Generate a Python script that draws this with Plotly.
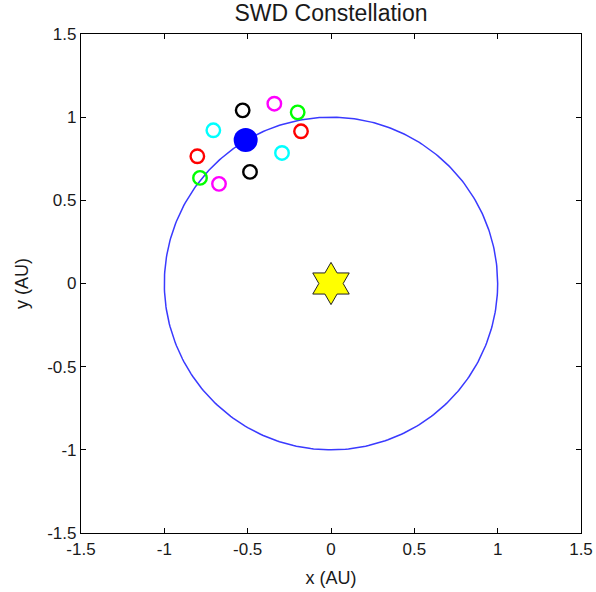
import numpy as np
import plotly.graph_objects as go

# ---- data ----
orbit_radius = 1.0
planet_x = [-0.512]
planet_y = [0.863]
sun_x = [0.0]
sun_y = [0.0]
sat_x = [-0.530, -0.340, -0.200, -0.180, -0.294, -0.486, -0.672, -0.786, -0.802, -0.706]
sat_y = [1.041, 1.081, 1.029, 0.915, 0.785, 0.671, 0.599, 0.635, 0.765, 0.921]
sat_colors = ["black", "magenta", "#00ff00", "red", "cyan", "black", "magenta", "#00ff00", "red", "cyan"]
tick_vals = [-1.5, -1.0, -0.5, 0.0, 0.5, 1.0, 1.5]
tick_text = ["-1.5", "-1", "-0.5", "0", "0.5", "1", "1.5"]

FONT = "Liberation Sans, Arial, sans-serif"

theta = np.linspace(0, 2 * np.pi, 361)
fig = go.Figure()
fig.add_trace(go.Scatter(x=orbit_radius * np.cos(theta), y=orbit_radius * np.sin(theta),
                         mode="lines", line=dict(color="#3a3aff", width=1.5),
                         hoverinfo="skip", showlegend=False))
fig.add_trace(go.Scatter(x=sat_x, y=sat_y, mode="markers",
                         marker=dict(symbol="circle-open", size=13.5, color=sat_colors,
                                     line=dict(width=2.4, color=sat_colors)),
                         showlegend=False))
fig.add_trace(go.Scatter(x=planet_x, y=planet_y, mode="markers",
                         marker=dict(symbol="circle", size=24, color="blue",
                                     line=dict(width=0)),
                         showlegend=False))
fig.add_trace(go.Scatter(x=sun_x, y=sun_y, mode="markers",
                         marker=dict(symbol="hexagram", size=32, color="yellow",
                                     line=dict(width=1, color="#222222")),
                         showlegend=False))

axis_common = dict(range=[-1.5, 1.5], tickvals=tick_vals, ticktext=tick_text,
                   ticks="inside", ticklen=5, tickwidth=1, tickcolor="black",
                   showline=True, linecolor="black", linewidth=1.2, mirror="allticks",
                   showgrid=False, zeroline=False, automargin=False,
                   tickfont=dict(family=FONT, size=17, color="#1a1a1a"),
                   fixedrange=True)

fig.update_layout(
    width=596, height=592,
    margin=dict(l=81, r=15, t=34, b=59),
    paper_bgcolor="white", plot_bgcolor="white",
    title=dict(text="SWD Constellation", x=0.5, xref="paper", xanchor="center",
               y=1 - 13 / 592, yref="container", yanchor="middle",
               font=dict(family=FONT, size=23, color="#1a1a1a")),
    xaxis=dict(**axis_common,
               title=dict(text="x (AU)", standoff=13,
                          font=dict(family=FONT, size=18, color="#1a1a1a"))),
    yaxis=dict(**axis_common,
               title=dict(text="y (AU)", standoff=13,
                          font=dict(family=FONT, size=18, color="#1a1a1a"))),
    showlegend=False,
)

fig.write_html("out.html")
